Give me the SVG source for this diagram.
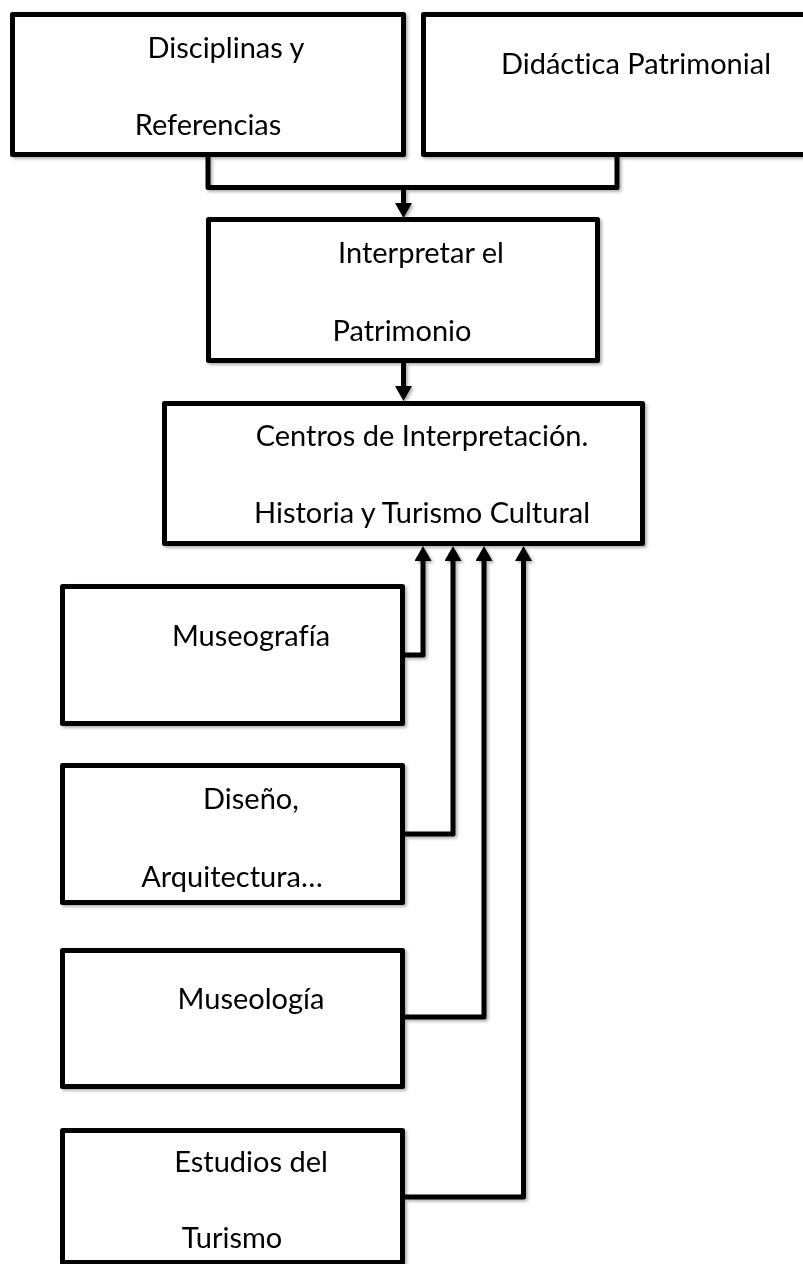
<svg xmlns="http://www.w3.org/2000/svg" width="803" height="1264" viewBox="0 0 803 1264">
  <style>
    .box { fill: #ffffff; stroke: #000000; stroke-width: 5; stroke-linejoin: round; }
    .lbl { font-family: "Lato", "Liberation Sans", sans-serif; font-size: 29px; fill: #000000; text-anchor: middle; font-variant-ligatures: none; }
    .conn { fill: none; stroke: #000000; stroke-width: 5; stroke-linejoin: round; }
  </style>
  <defs>
    <filter id="sh" x="-5%" y="-5%" width="115%" height="115%">
      <feDropShadow dx="2" dy="2" stdDeviation="1.5" flood-color="#000000" flood-opacity="0.3"/>
    </filter>
    <marker id="arr" markerUnits="userSpaceOnUse" viewBox="0 0 15 17" markerWidth="15" markerHeight="17" refX="0" refY="8.5" orient="auto">
      <path d="M0,0 L15,8.5 L0,17 z" fill="#000000"/>
    </marker>
  </defs>
  <rect width="803" height="1264" fill="#ffffff"/>

  <g id="connectors" filter="url(#sh)">
    <path class="conn" d="M208,157 L208,187.5 L617,187.5 L617,157"/>
    <path class="conn" d="M403.5,187.5 L403.5,203" marker-end="url(#arr)"/>
    <path class="conn" d="M403.5,363 L403.5,386" marker-end="url(#arr)"/>
    <path class="conn" d="M405,655 L423,655 L423,561" marker-end="url(#arr)"/>
    <path class="conn" d="M405,834 L453,834 L453,561" marker-end="url(#arr)"/>
    <path class="conn" d="M405,1017 L484,1017 L484,561" marker-end="url(#arr)"/>
    <path class="conn" d="M405,1197 L523.5,1197 L523.5,561" marker-end="url(#arr)"/>
  </g>

  <g id="disciplinas" filter="url(#sh)">
    <rect class="box" x="12.5" y="14.5" width="391" height="140"/>
    <text class="lbl" x="226" y="58">Disciplinas y</text>
    <text class="lbl" x="208" y="135">Referencias</text>
  </g>

  <g id="didactica" filter="url(#sh)">
    <rect class="box" x="423.5" y="14.5" width="400" height="140"/>
    <text class="lbl" x="636" y="74">Didáctica Patrimonial</text>
  </g>

  <g id="interpretar" filter="url(#sh)">
    <rect class="box" x="208.5" y="219.5" width="389" height="141"/>
    <text class="lbl" x="421" y="263">Interpretar el</text>
    <text class="lbl" x="402" y="341">Patrimonio</text>
  </g>

  <g id="centros" filter="url(#sh)">
    <rect class="box" x="164.5" y="403.5" width="478" height="140"/>
    <text class="lbl" x="422" y="446">Centros de Interpretación.</text>
    <text class="lbl" x="422" y="523">Historia y Turismo Cultural</text>
  </g>

  <g id="museografia" filter="url(#sh)">
    <rect class="box" x="62.5" y="586.5" width="340" height="137"/>
    <text class="lbl" x="251" y="646">Museografía</text>
  </g>

  <g id="diseno" filter="url(#sh)">
    <rect class="box" x="62.5" y="765.5" width="340" height="137"/>
    <text class="lbl" x="251" y="809">Diseño,</text>
    <text class="lbl" x="232" y="887">Arquitectura…</text>
  </g>

  <g id="museologia" filter="url(#sh)">
    <rect class="box" x="62.5" y="950.5" width="340" height="136"/>
    <text class="lbl" x="251" y="1009">Museología</text>
  </g>

  <g id="estudios" filter="url(#sh)">
    <rect class="box" x="62.5" y="1130.5" width="340" height="132"/>
    <text class="lbl" x="251" y="1172">Estudios del</text>
    <text class="lbl" x="232" y="1248">Turismo</text>
  </g>
</svg>
